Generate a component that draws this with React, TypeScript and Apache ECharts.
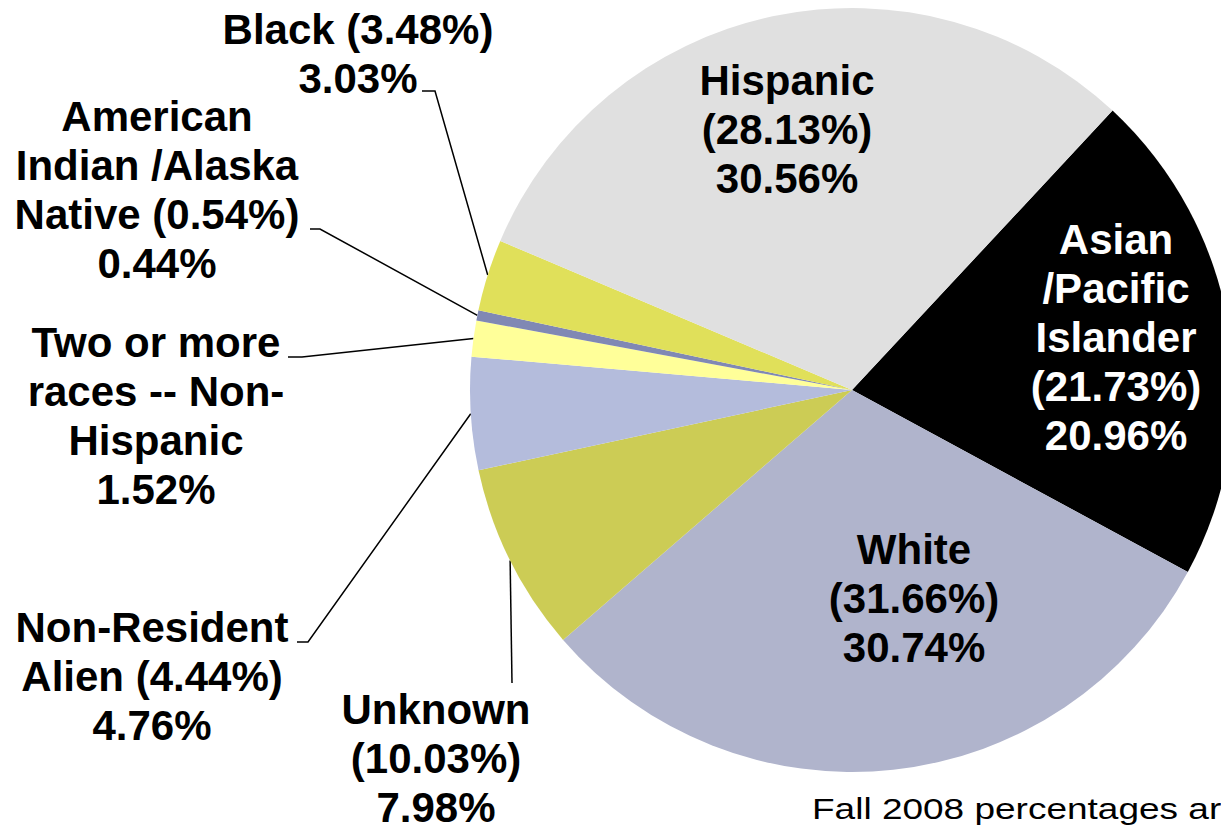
import React, { useEffect, useRef } from 'react';
import * as echarts from 'echarts';

// ---- Data (clockwise from the top-right) ----
const categories = [
  'Asian /Pacific Islander',
  'White',
  'Unknown',
  'Non-Resident Alien',
  'Two or more races -- Non-Hispanic',
  'American Indian /Alaska Native',
  'Black',
  'Hispanic',
];
const labelHeads = [
  'Asian\n/Pacific\nIslander\n',
  'White\n',
  'Unknown\n',
  'Non-Resident\nAlien ',
  'Two or more\nraces -- Non-\nHispanic',
  'American\nIndian /Alaska\nNative ',
  'Black ',
  'Hispanic\n',
];
const currentPct = [20.96, 30.74, 7.98, 4.76, 1.52, 0.44, 3.03, 30.56];
const fall2008Pct: (number | null)[] = [21.73, 31.66, 10.03, 4.44, null, 0.54, 3.48, 28.13];
const sliceColors = ['#000000', '#b0b4cc', '#cccc55', '#b4bcdc', '#ffff99', '#8088b4', '#e0e05a', '#e0e0e0'];
const insideLabel = [true, true, false, false, false, false, false, true];
const noteText = 'Fall 2008 percentages are';

// ---- Layout ----
const CENTER = [852, 390];
const RADIUS = 382;
const FONT = '"Liberation Sans", Arial, Helvetica, sans-serif';
const labelPlacement: { x: number; y: number; line?: number[][] }[] = [
  { x: 1116, y: 337 },
  { x: 914, y: 598 },
  { x: 436, y: 758, line: [[512, 683]] },
  { x: 152, y: 676, line: [[308, 642], [297, 642]] },
  { x: 156, y: 416, line: [[302, 357], [288, 357]] },
  { x: 157, y: 190, line: [[320, 229], [310, 229]] },
  { x: 358, y: 54, line: [[435, 91], [422, 91]] },
  { x: 787, y: 129 },
];

export default function App() {
  const ref = useRef<HTMLDivElement>(null);
  useEffect(() => {
    if (!ref.current) return;
    const chart = echarts.init(ref.current, undefined, { renderer: 'svg' });
    const data = categories.map((name, i) => ({
      name,
      value: currentPct[i],
      itemStyle: { color: sliceColors[i] },
      label: insideLabel[i]
        ? { position: 'inside', color: sliceColors[i] === '#000000' ? '#ffffff' : '#000000' }
        : undefined,
      labelLine: insideLabel[i] ? { show: false } : undefined,
    }));
    chart.setOption({
      animation: false,
      backgroundColor: '#ffffff',
      series: [
        {
          type: 'pie',
          center: CENTER,
          radius: RADIUS,
          startAngle: 47,
          clockwise: true,
          avoidLabelOverlap: false,
          silent: true,
          emphasis: { disabled: true },
          itemStyle: { borderWidth: 0 },
          data,
          label: {
            show: true,
            position: 'outside',
            fontFamily: FONT,
            fontWeight: 'bold',
            fontSize: 42,
            lineHeight: 49,
            color: '#000000',
            formatter: (p: any) => {
              const i = p.dataIndex;
              const prev = fall2008Pct[i];
              return (
                labelHeads[i] +
                (prev != null ? `(${prev.toFixed(2)}%)` : '') +
                '\n' +
                `${currentPct[i].toFixed(2)}%`
              );
            },
          },
          labelLine: { show: true, lineStyle: { color: '#000000', width: 1.5 } },
          labelLayout: (params: any) => {
            const L = labelPlacement[params.dataIndex];
            const out: any = { x: L.x, y: L.y, align: 'center', verticalAlign: 'middle' };
            if (L.line && params.labelLinePoints && params.labelLinePoints.length) {
              out.labelLinePoints = [params.labelLinePoints[0], ...L.line];
            }
            return out;
          },
        },
      ],
      graphic: [
        {
          type: 'text',
          x: 812,
          y: 809,
          scaleY: 0.8,
          style: {
            text: noteText,
            fontFamily: FONT,
            fontSize: 37,
            fill: '#000000',
            align: 'left',
            verticalAlign: 'middle',
          },
        },
      ],
    });
    return () => chart.dispose();
  }, []);
  return (
    <div
      ref={ref}
      style={{ position: 'fixed', left: 0, top: 0, width: 1221, height: 826 }}
    />
  );
}
